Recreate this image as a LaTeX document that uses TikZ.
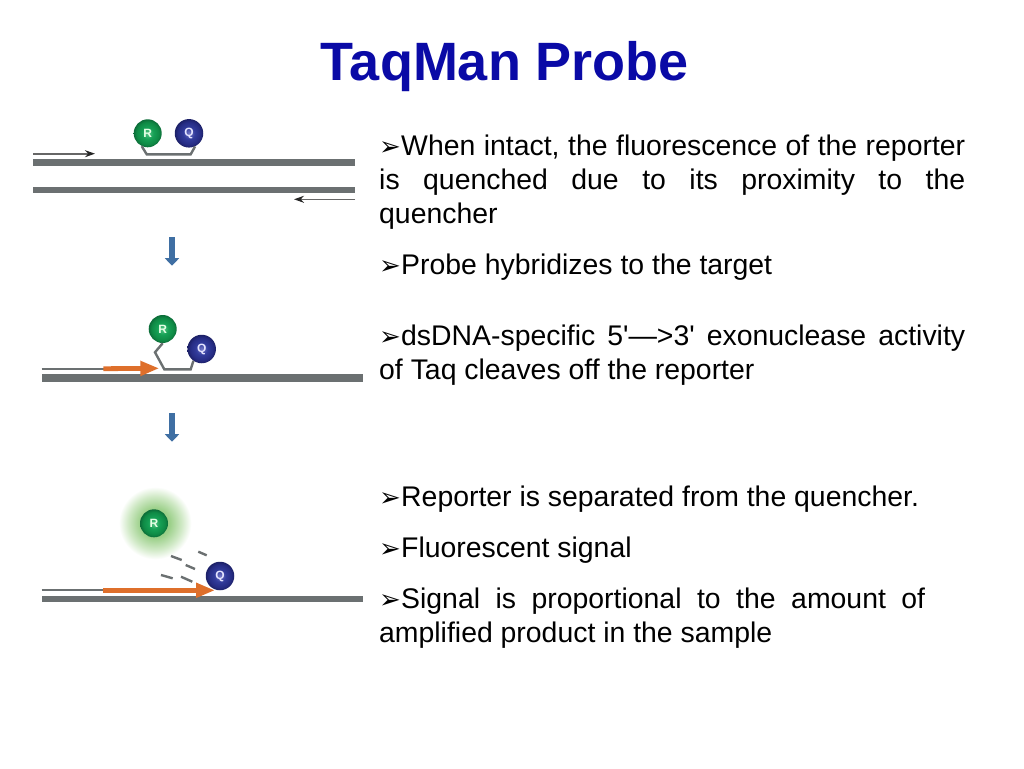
\documentclass[tikz,border=0pt]{standalone}
\usepackage{fontspec}
\setmainfont{Liberation Sans}
\newfontfamily\plainsans{Liberation Sans}
\newfontfamily\dejavu{DejaVu Sans}
\usetikzlibrary{arrows.meta}
\definecolor{titleblue}{HTML}{0A0AA6}
\definecolor{strandgray}{HTML}{6B7071}
\definecolor{orangeprimer}{HTML}{DE6F2B}
\definecolor{downblue}{HTML}{3F6FA3}
\definecolor{gA}{HTML}{5CC98A}
\definecolor{gB}{HTML}{16A055}
\definecolor{gC}{HTML}{0F8A45}
\definecolor{gD}{HTML}{0C6B38}
\definecolor{bA}{HTML}{7478C8}
\definecolor{bB}{HTML}{323C9C}
\definecolor{bC}{HTML}{262C84}
\definecolor{bD}{HTML}{1C2066}
\definecolor{glA}{HTML}{7FC46A}
\definecolor{glB}{HTML}{9CD08A}
\definecolor{glC}{HTML}{D0E9C6}
\pgfdeclareradialshading{greenball}{\pgfpointorigin}{color(0bp)=(gA);color(10bp)=(gB);color(20bp)=(gC);color(25bp)=(gD);color(50bp)=(gD)}
\pgfdeclareradialshading{blueball}{\pgfpointorigin}{color(0bp)=(bA);color(10bp)=(bB);color(20bp)=(bC);color(25bp)=(bD);color(50bp)=(bD)}
\pgfdeclareradialshading{greenglow}{\pgfpointorigin}{color(0bp)=(glA);color(10bp)=(glB);color(18bp)=(glC);color(24.5bp)=(white);color(50bp)=(white)}
\tikzset{
  x=1pt,y=-1pt,
  ttl/.style={anchor=base,inner sep=0,font=\bfseries\fontsize{54}{60}\selectfont,text=titleblue},
  body/.style={anchor=base west,inner sep=0,font=\plainsans\fontsize{28.4}{34}\selectfont,text=black},
  ballR/.style={circle,minimum size=28pt,inner sep=0,shading=greenball,text=white!90!green,font=\bfseries\fontsize{12}{12}\selectfont},
  ballQ/.style={circle,minimum size=28.5pt,inner sep=0,shading=blueball,text=white!90!blue,font=\bfseries\fontsize{12}{12}\selectfont},
  strand/.style={draw=none,fill=strandgray},
  primer/.style={draw=black!60,line width=1.6pt,-{Stealth[length=10pt,width=7pt,black!85]}},
  thinline/.style={draw=strandgray,line width=2pt},
  linker/.style={draw=strandgray,line width=2.4pt},
  extend/.style={draw=orangeprimer,line width=4.8pt,-{Triangle[length=19pt,width=14pt,orangeprimer]}},
  down/.style={draw=downblue,line width=6.5pt,-{Triangle[length=7.5pt,width=14pt,downblue]}},
  frag/.style={draw=strandgray,line width=2.4pt},
}
\newcommand{\bul}{\makebox[22pt][l]{\dejavu\fontsize{26}{26}\selectfont\raisebox{0pt}{\char"27A2}}}
\begin{document}
\begin{tikzpicture}
\useasboundingbox (0,0) rectangle (1024,768);
\node[ttl] (title) at (505,80) {TaqMan Probe};

% panel 1
\fill[strand] (33.3,159.3) rectangle (355,165.7);
\fill[strand] (33.3,186.7) rectangle (355,193.3);
\coordinate (p1a) at (33.3,153.7); \coordinate (p1b) at (95,153.7);
\draw[primer] (p1a) -- (p1b);
\coordinate (p2a) at (355,199.3); \coordinate (p2b) at (294,199.3);
\draw[primer] (p2a) -- (p2b);
\coordinate (l1a) at (146.7,154.3); \coordinate (l1b) at (190.7,154.3);
\node[ballR] (R1) at (147.7,133.3) {R};
\node[ballQ] (Q1) at (189,133.3) {Q};
\draw[linker] (R1.-115) -- (l1a) -- (l1b) -- (Q1.-65);
\coordinate (d1a) at (172,237.3); \coordinate (d1b) at (172,265.7);
\draw[down] (d1a) -- (d1b);

% panel 2
\fill[strand] (41.7,374) rectangle (363.3,381.7);
\coordinate (t2a) at (41.7,369); \coordinate (t2b) at (104,369);
\draw[thinline] (t2a) -- (t2b);
\coordinate (o2a) at (103.3,368.7); \coordinate (o2b) at (159.3,368.3);
\draw[extend] (o2a) -- (o2b);
\node[ballR] (R2) at (162.7,329) {R};
\node[ballQ] (Q2) at (201.7,349) {Q};
\coordinate (l2a) at (155,352.3); \coordinate (l2b) at (164.3,369.3); \coordinate (l2c) at (190.7,369.3);
\draw[linker] (R2.south) -- (l2a) -- (l2b) -- (l2c) -- (Q2.-125);
\coordinate (d2a) at (172,413.3); \coordinate (d2b) at (172,441.7);
\draw[down] (d2a) -- (d2b);

% panel 3
\fill[strand] (41.7,595.7) rectangle (363.3,602.3);
\coordinate (t3a) at (41.7,590); \coordinate (t3b) at (104,590);
\draw[thinline] (t3a) -- (t3b);
\shade[shading=greenglow] (155,523) circle[radius=37];
\node[ballR] (R3) at (154,523.3) {R};
\coordinate (o3a) at (103.3,590.3); \coordinate (o3b) at (215,590.3);
\draw[extend] (o3a) -- (o3b);
\node[ballQ] (Q3) at (220,576) {Q};
\draw[frag] (198.3,551.7) -- (206.7,555.3);
\draw[frag] (171,556) -- (181.7,560);
\draw[frag] (185.7,565) -- (195,569);
\draw[frag] (161,575) -- (172.7,578.3);
\draw[frag] (181,576.7) -- (192.3,581.7);

% text
\node[body] (a1) at (379,155.6) {\bul\makebox[564pt][s]{When intact, the fluorescence of the reporter}};
\node[body] (a2) at (379,189.6) {\makebox[586pt][s]{is quenched due to its proximity to the}};
\node[body] (a3) at (379,223.6) {quencher};
\node[body] (b1) at (379,274.6) {\bul Probe hybridizes to the target};
\node[body] (c1) at (379,345.6) {\bul\makebox[564pt][s]{dsDNA-specific 5'—>3' exonuclease activity}};
\node[body] (c2) at (379,379.6) {of Taq cleaves off the reporter};
\node[body] (d1) at (379,506.6) {\bul Reporter is separated from the quencher.};
\node[body] (e1) at (379,557.6) {\bul Fluorescent signal};
\node[body] (f1) at (379,608.6) {\bul\makebox[524pt][s]{Signal is proportional to the amount of}};
\node[body] (f2) at (379,642.6) {amplified product in the sample};
\end{tikzpicture}
\end{document}
